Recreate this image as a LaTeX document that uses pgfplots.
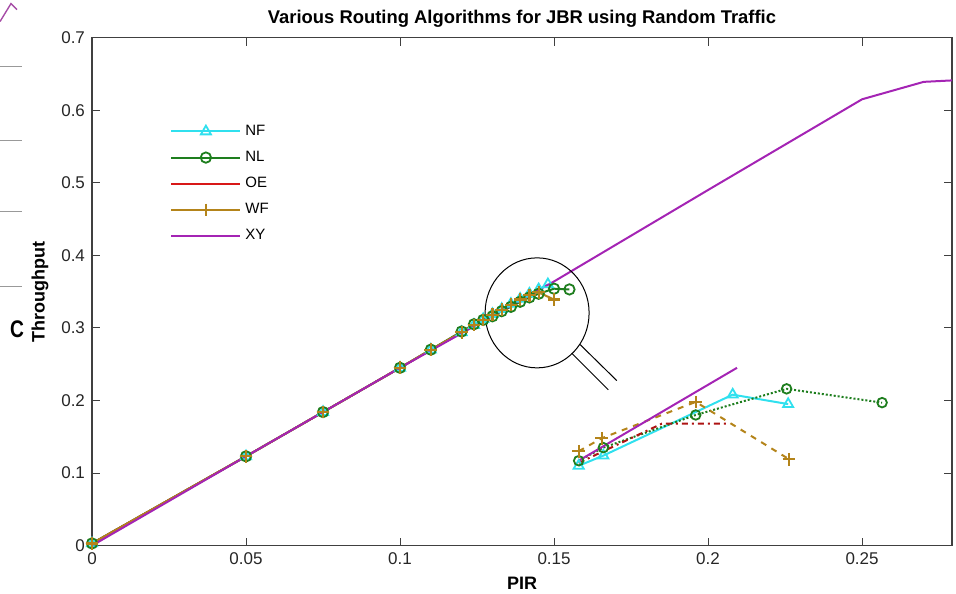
\documentclass[border=0pt]{standalone}
\usepackage{fontspec}
\setmainfont{Liberation Sans}
\usepackage{pgfplots}
\pgfplotsset{compat=1.18}
\usetikzlibrary{calc}
\definecolor{nfc}{HTML}{30E0EE}
\definecolor{nlc}{HTML}{1E7E1E}
\definecolor{oec}{HTML}{D81818}
\definecolor{wfc}{HTML}{B4841A}
\definecolor{xyc}{HTML}{A424B4}
\definecolor{axc}{HTML}{404040}

\begin{document}
\begin{tikzpicture}
\begin{axis}[
  scale only axis, width=430pt, height=254pt,
  xmin=0, xmax=0.2792, ymin=0, ymax=0.7,
  xtick={0,0.05,0.1,0.15,0.2,0.25}, xticklabels={0,0.05,0.1,0.15,0.2,0.25},
  ytick={0,0.1,0.2,0.3,0.4,0.5,0.6,0.7}, yticklabels={0,0.1,0.2,0.3,0.4,0.5,0.6,0.7},
  tick align=inside, xtick pos=both, ytick pos=both, major tick length=4pt,
  axis line style={draw=axc, line width=0.6pt}, tick style={draw=axc, line width=0.5pt},
  ticklabel style={font=\fontsize{8.5}{10}\selectfont, text=black!85},
  every axis title shift=0pt,
  title={\bfseries Various Routing Algorithms for JBR using Random Traffic},
  title style={font=\fontsize{9.2}{10}\selectfont, at={(rel axis cs:0.5,1)}, anchor=center, yshift=9.5pt},
  xlabel={\bfseries PIR},
  xlabel style={font=\fontsize{9}{10}\selectfont, at={(rel axis cs:0.5,0)}, anchor=center, yshift=-19pt},
  ylabel={\bfseries Throughput},
  ylabel style={font=\fontsize{9}{10}\selectfont, at={(rel axis cs:0,0.5)}, anchor=center, yshift=26pt},
  legend cell align=left,
  legend style={draw=none, fill=none, at={(rel axis cs:0.0907,0.837)}, anchor=north west,
    font=\fontsize{7.5}{9}\selectfont, inner sep=0pt, row sep=2.4pt},
  legend image code/.code={\draw[mark repeat=2, mark phase=2] plot coordinates {(0pt,0pt) (17.25pt,0pt) (34.5pt,0pt)};},
  every axis plot/.append style={line width=1pt},
  clip=false,
]
% upper group
\addplot[nfc, mark=triangle, mark size=2.9pt, mark options={solid, line width=0.9pt}] coordinates {
 (0,0.003) (0.05,0.123) (0.075,0.184) (0.1,0.245) (0.11,0.270) (0.12,0.294) (0.124,0.304) (0.127,0.312)
 (0.13,0.319) (0.133,0.326) (0.136,0.333) (0.139,0.340) (0.142,0.347) (0.145,0.353) (0.148,0.360) };
\addplot[nlc, mark=o, mark size=2.6pt, mark options={solid, line width=0.9pt}] coordinates {
 (0,0.003) (0.05,0.123) (0.075,0.184) (0.1,0.245) (0.11,0.270) (0.12,0.295) (0.124,0.305) (0.127,0.311)
 (0.13,0.316) (0.133,0.323) (0.136,0.329) (0.139,0.336) (0.142,0.342) (0.145,0.347) (0.15,0.354) (0.155,0.353) };
\addplot[oec] coordinates {
 (0,0.003) (0.05,0.123) (0.1,0.245) (0.12,0.294) (0.13,0.318) (0.14,0.342) (0.145,0.352) };
\addplot[wfc, mark=+, mark size=3.2pt, mark options={solid, line width=1.1pt}] coordinates {
 (0,0.003) (0.05,0.123) (0.075,0.184) (0.1,0.245) (0.11,0.270) (0.12,0.294) (0.124,0.304) (0.127,0.311)
 (0.13,0.318) (0.133,0.325) (0.136,0.332) (0.139,0.339) (0.142,0.345) (0.145,0.349) (0.15,0.339) };
\addplot[xyc] coordinates {
 (0,0) (0.05,0.123) (0.1,0.245) (0.15,0.364) (0.2,0.490) (0.25,0.615) (0.27,0.639) (0.2792,0.641) };
\legend{NF,NL,OE,WF,XY}
% lower group
\addplot[nfc, mark=triangle, mark size=2.9pt, mark options={solid, line width=0.9pt}, forget plot] coordinates {
 (0.158,0.110) (0.166,0.124) (0.208,0.208) (0.226,0.195) };
\addplot[nlc, densely dotted, mark=o, mark size=2.4pt, mark options={solid, line width=0.9pt}, forget plot] coordinates {
 (0.158,0.117) (0.166,0.135) (0.196,0.180) (0.2255,0.216) (0.2565,0.197) };
\addplot[oec!80!black, dash dot, forget plot] coordinates {
 (0.158,0.114) (0.166,0.130) (0.185,0.168) (0.196,0.168) (0.207,0.168) };
\addplot[wfc, dashed, mark=+, mark size=3.2pt, mark options={solid, line width=1.1pt}, forget plot] coordinates {
 (0.158,0.130) (0.1655,0.148) (0.196,0.198) (0.2263,0.119) };
\addplot[xyc, forget plot] coordinates { (0.158,0.117) (0.2094,0.245) };
% magnifier
\draw[black, line width=0.5pt] (axis cs:0.1445,0.3207) ellipse [x radius=26pt, y radius=27.5pt];
\draw[black, line width=0.5pt] (axis cs:0.15844,0.2771) -- (axis cs:0.17036,0.2274);
\draw[black, line width=0.5pt] (axis cs:0.15575,0.2651) -- (axis cs:0.16763,0.2146);
\end{axis}
% screenshot edge remnants
\begin{scope}[shift={(current axis.south west)}]
\foreach \yy in {239.5,202.5,167,129.5} \draw[gray!80, line width=0.8pt] (-46pt,\yy pt) -- (-35pt,\yy pt);
\node[font=\fontsize{12}{12}\selectfont\bfseries, xscale=0.8] at (-37.5pt,108pt) {C};
\draw[violet!70, line width=0.7pt] (-46pt,262pt) -- (-40.5pt,271pt) -- (-37.5pt,268pt);
\end{scope}
\pgfresetboundingbox
\path ($(current axis.south west)+(-46pt,-24pt)$) rectangle ($(current axis.north east)+(2pt,18.8pt)$);
\end{tikzpicture}
\end{document}
